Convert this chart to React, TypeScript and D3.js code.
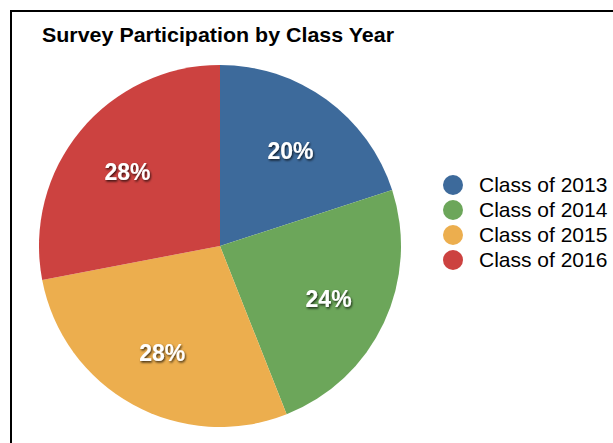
import React from "react";
import * as d3 from "d3";

const categories = ["Class of 2013", "Class of 2014", "Class of 2015", "Class of 2016"];
const values = [20, 24, 28, 28];
const colors = ["#3d6a9b", "#6ca65a", "#ecae4e", "#cc4240"];
const title = "Survey Participation by Class Year";

export default function App() {
  const W = 613, H = 443;
  const cx = 220, cy = 246, R = 181, labelR = 120;
  const pie = d3.pie<number>().value((d) => d).sort(null);
  const arcs = pie(values);
  const arc = d3.arc<d3.PieArcDatum<number>>().innerRadius(0).outerRadius(R);
  const labelArc = d3.arc<d3.PieArcDatum<number>>().innerRadius(labelR).outerRadius(labelR);
  const total = d3.sum(values);
  const legendY = d3.scaleLinear().domain([0, 1]).range([185, 210]);

  return (
    <svg
      width={W}
      height={H}
      style={{ position: "absolute", left: 0, top: 0, display: "block" }}
      fontFamily="'Liberation Sans', Arial, Helvetica, sans-serif"
    >
      <defs>
        <filter id="shadow" x="-20%" y="-20%" width="140%" height="140%">
          <feDropShadow dx="1" dy="1.5" stdDeviation="1" floodColor="#000" floodOpacity="0.75" />
        </filter>
      </defs>
      <rect x={11} y={11} width={W} height={H} fill="#fff" stroke="#000" strokeWidth={2} />
      <text x={42} y={42} fontSize={21} fontWeight="bold" fill="#000" textLength={352} lengthAdjust="spacingAndGlyphs">
        {title}
      </text>
      <g transform={`translate(${cx},${cy})`}>
        {arcs.map((a, i) => (
          <path key={i} d={arc(a) || ""} fill={colors[i]} />
        ))}
        {arcs.map((a, i) => {
          const [x, y] = labelArc.centroid(a);
          return (
            <text
              key={"l" + i}
              x={x}
              y={y + 2}
              dy="0.35em"
              textAnchor="middle"
              fontSize={23}
              fontWeight="bold"
              fill="#fff"
              filter="url(#shadow)"
            >
              {Math.round((values[i] / total) * 100) + "%"}
            </text>
          );
        })}
      </g>
      <g>
        {categories.map((c, i) => (
          <g key={c} transform={`translate(0,${legendY(i)})`}>
            <circle cx={453} cy={0} r={10} fill={colors[i]} />
            <text x={479} y={0} dy="0.35em" fontSize={21} fill="#000">
              {c}
            </text>
          </g>
        ))}
      </g>
    </svg>
  );
}
